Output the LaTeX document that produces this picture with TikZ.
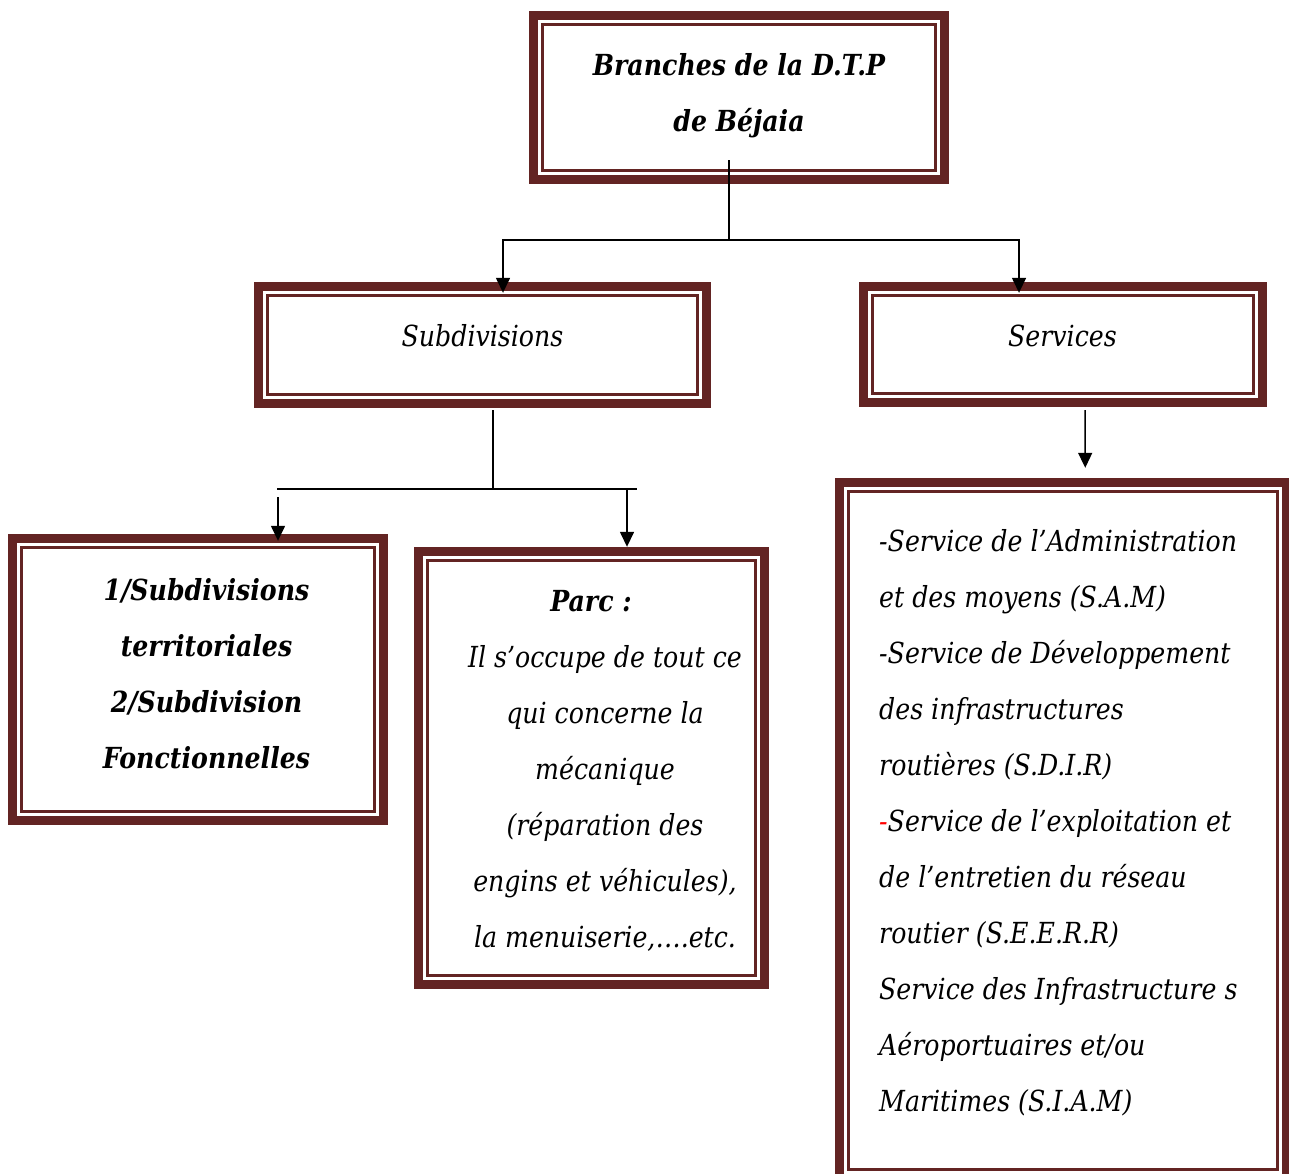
\documentclass[tikz,border=0pt]{standalone}
\usepackage{fontspec}
\setmainfont[FakeStretch=0.87]{DejaVu Serif}
\usetikzlibrary{arrows.meta}
\definecolor{maroon}{HTML}{632423}
\tikzset{
  box/.style n args={2}{inner sep=0pt, minimum width=#1, minimum height=#2},
  txt/.style={inner sep=0pt, align=center, font=\fontsize{29}{56}\selectfont\itshape},
  btxt/.style={txt, font=\fontsize{29}{56}\selectfont\bfseries\itshape},
  line/.style={line width=1.5pt, black},
  arr/.style={line width=1.5pt, black, -{Triangle[width=14pt,length=15pt]}}
}
\begin{document}
\begin{tikzpicture}[x=1pt,y=-1pt]
\useasboundingbox (0,0) rectangle (1289,1174);
\clip (0,0) rectangle (1289,1174);
\fill[white] (0,0) rectangle (1289,1174);

% frames
\node[box={420pt}{173pt}] (top) at (739,97.5) {};
\node[box={457pt}{126pt}] (sub) at (482.5,345) {};
\node[box={408pt}{125pt}] (serv) at (1063,344.5) {};
\node[box={380pt}{291pt}] (sd) at (198,679.5) {};
\node[box={355pt}{442pt}] (parc) at (591.5,768) {};
\node[box={457pt}{705pt}] (list) at (1063.25,830.5) {};

\foreach \n in {top,sub,serv,sd,parc,list}{
  \draw[maroon, line width=9.5pt] ([shift={(4.75pt,-4.75pt)}]\n.north west) rectangle ([shift={(-4.75pt,4.75pt)}]\n.south east);
  \draw[maroon, line width=3pt] ([shift={(14pt,-14pt)}]\n.north west) rectangle ([shift={(-14pt,14pt)}]\n.south east);
}

% texts
\node[btxt] (topT) at (739,96) {Branches de la D.T.P\\de Béjaia};
\node[txt] (subT) at (482.5,336) {Subdivisions};
\node[txt] (servT) at (1062.5,336) {Services};
\node[btxt] (sdT) at (206.5,674) {1/Subdivisions\\territoriales\\2/Subdivision\\Fonctionnelles};
\node[txt] (parcT) at (605,771)
  {\textbf{Parc :}\hspace*{28pt}\\Il s’occupe de tout ce\\qui concerne la\\mécanique\\(réparation des\\engins et véhicules),\\la menuiserie,….etc.};
\node[txt, align=left, anchor=west] (listT) at (879,823)
  {-Service de l’Administration\\et des moyens (S.A.M)\\-Service de Développement\\des infrastructures\\routières (S.D.I.R)\\{\color{red}-}Service de l’exploitation et\\de l’entretien du réseau\\routier (S.E.E.R.R)\\Service des Infrastructure s\\Aéroportuaires et/ou\\Maritimes (S.I.A.M)};

% connectors
\coordinate (j1) at (729,240);
\draw[line] ([xshift=-10pt,yshift=24pt]top.south) -- (j1);
\draw[arr] (j1) -| ([xshift=20.5pt,yshift=-11pt]sub.north);
\draw[arr] (j1) -| ([xshift=-44pt,yshift=-11pt]serv.north);

\coordinate (j2) at (493,489);
\coordinate (hL) at (277,489);
\coordinate (hR) at (637,489);
\coordinate (a1) at (278,497);
\coordinate (a2) at (627,489);
\draw[line] ([xshift=10.5pt,yshift=-2pt]sub.south) -- (j2);
\draw[line] (hL) -- (hR);
\draw[arr] (a1) -- ([xshift=80pt,yshift=-7pt]sd.north);
\draw[arr] (a2) -- (parc.north -| a2);
\draw[arr] ([xshift=22pt,yshift=-3pt]serv.south) -- ([xshift=22pt,yshift=10pt]list.north);
\end{tikzpicture}
\end{document}
